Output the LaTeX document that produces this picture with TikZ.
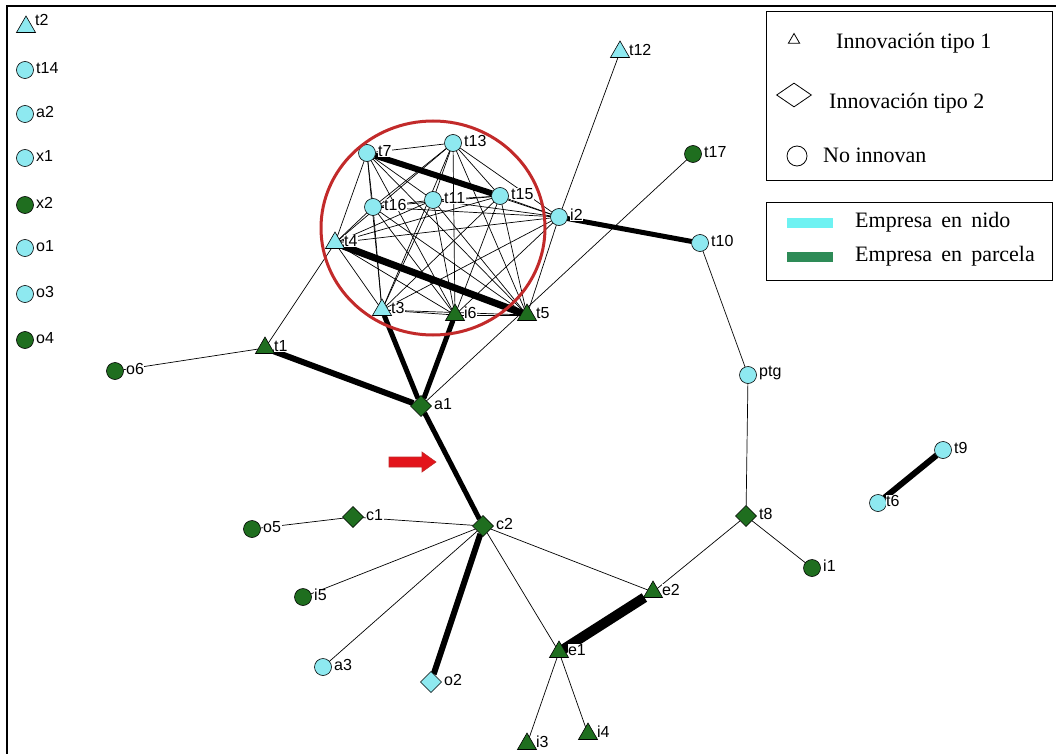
\documentclass[tikz,border=0pt]{standalone}
\usepackage{fontspec}
\setmainfont{Liberation Serif}
\newfontfamily\lblfont{Liberation Sans}
\usetikzlibrary{shapes.geometric,backgrounds}
\definecolor{cy}{HTML}{8EE9F0}
\definecolor{gr}{HTML}{1F6E1F}
\definecolor{barcy}{HTML}{6EF2F2}
\definecolor{bargr}{HTML}{2E8B57}
\definecolor{ringred}{HTML}{C22A2A}
\definecolor{arrred}{HTML}{E3141B}
\begin{document}
\begin{tikzpicture}[x=1pt,y=-1pt,
  lbl/.style={font=\lblfont\fontsize{16}{16}\selectfont, inner sep=0.5pt, fill=white, yshift=2pt},
  every label/.style={label distance=2pt},
  base/.style={draw=black, line width=0.6pt, inner sep=0pt, outer sep=0pt},
  cyc/.style={base, circle, fill=cy, minimum size=17pt},
  grc/.style={base, circle, fill=gr, minimum size=17pt},
  cyt/.style={base, regular polygon, regular polygon sides=3, fill=cy, minimum size=22pt},
  grt/.style={base, regular polygon, regular polygon sides=3, fill=gr, minimum size=22pt},
  cyd/.style={base, diamond, fill=cy, minimum size=21pt},
  grd/.style={base, diamond, fill=gr, minimum size=21pt},
  thinedge/.style={line width=0.7pt},
  heavy/.style={line width=5pt},
  legtext/.style={font=\fontsize{22}{22}\selectfont, anchor=west, inner sep=0pt},
  legbox/.style={draw=black, line width=1pt}
]
\useasboundingbox (0,0) rectangle (1056,754);
% frame lines
\draw[line width=2.5pt] (6,6) -- (1056,6);
\draw[line width=2.5pt] (7,6) -- (7,754);

% isolated nodes
\node[cyt, label={[lbl,yshift=5pt]right:t2}] (t2) at (26,27) {};
\node[cyc, label={[lbl]right:t14}] (t14) at (25,70) {};
\node[cyc, label={[lbl]right:a2}] (a2) at (25,114) {};
\node[cyc, label={[lbl]right:x1}] (x1) at (25,158) {};
\node[grc, label={[lbl]right:x2}] (x2) at (25,205) {};
\node[cyc, label={[lbl]right:o1}] (o1) at (25,248) {};
\node[cyc, label={[lbl]right:o3}] (o3) at (25,294) {};
\node[grc, label={[lbl]right:o4}] (o4) at (25,340) {};

% network nodes
\node[cyt, label={[lbl]right:t12}] (t12) at (620,52) {};
\node[grc, label={[lbl]right:t17}] (t17) at (693,154) {};
\node[cyc, label={[lbl]right:t7}] (t7) at (367,153) {};
\node[cyc, label={[lbl]right:t13}] (t13) at (453,143) {};
\node[cyc, label={[lbl]right:t16}] (t16) at (373,207) {};
\node[cyc, label={[lbl]right:t11}] (t11) at (433,200) {};
\node[cyc, label={[lbl]right:t15}] (t15) at (500,196) {};
\node[cyc, label={[lbl]right:i2}] (i2) at (559,217) {};
\node[cyc, label={[lbl]right:t10}] (t10) at (700,243) {};
\node[cyt, label={[lbl]right:t4}] (t4) at (335,243) {};
\node[cyt, label={[lbl]right:t3}] (t3) at (382,310) {};
\node[grt, label={[lbl]right:i6}] (i6) at (455,315) {};
\node[grt, label={[lbl]right:t5}] (t5) at (527,315) {};
\node[grt, label={[lbl]right:t1}] (t1) at (265,348) {};
\node[grc, label={[lbl]right:o6}] (o6) at (115,371) {};
\node[grd, label={[lbl]right:a1}] (a1) at (421,406) {};
\node[cyc, label={[lbl]right:ptg}] (ptg) at (748,375) {};
\node[grd, label={[lbl]right:c1}] (c1) at (353,517) {};
\node[grc, label={[lbl]right:o5}] (o5) at (252,529) {};
\node[grd, label={[lbl]right:c2}] (c2) at (483,526) {};
\node[grd, label={[lbl]right:t8}] (t8) at (746,516) {};
\node[grc, label={[lbl]right:i1}] (i1) at (812,568) {};
\node[cyc, label={[lbl]right:t9}] (t9) at (943,450) {};
\node[cyc, label={[lbl,xshift=-3pt]right:t6}] (t6) at (878,503) {};
\node[grc, label={[lbl]right:i5}] (i5) at (303,597) {};
\node[grt, label={[lbl]right:e2}] (e2) at (653,592) {};
\node[grt, label={[lbl]right:e1}] (e1) at (559,652) {};
\node[cyc, label={[lbl]right:a3}] (a3) at (323,667) {};
\node[cyd, label={[lbl]right:o2}] (o2) at (431,682) {};
\node[grt, label={[lbl]right:i3}] (i3) at (527,744) {};
\node[grt, label={[lbl]right:i4}] (i4) at (588,734) {};

\begin{scope}[on background layer]
  % dense cluster: all pairs
  \foreach \a [count=\i] in {t7,t13,t16,t11,t15,i2,t4,t3,i6,t5}{
    \foreach \b [count=\j] in {t7,t13,t16,t11,t15,i2,t4,t3,i6,t5}{
      \ifnum\j>\i \draw[thinedge] (\a) -- (\b); \fi
    }
  }
  % thin edges
  \draw[thinedge] (o6) -- (t1);
  \draw[thinedge] (t1) -- (t4);
  \draw[thinedge] (a1) -- (t17);
  \draw[thinedge] (i2) -- (t12);
  \draw[thinedge] (t10) -- (ptg);
  \draw[thinedge] (ptg) -- (t8);
  \draw[thinedge] (t8) -- (e2);
  \draw[thinedge] (t8) -- (i1);
  \draw[thinedge] (c2) -- (c1);
  \draw[thinedge] (c1) -- (o5);
  \draw[thinedge] (c2) -- (i5);
  \draw[thinedge] (c2) -- (a3);
  \draw[thinedge] (c2) -- (e2);
  \draw[thinedge] (c2) -- (e1);
  \draw[thinedge] (e1) -- (i3);
  \draw[thinedge] (e1) -- (i4);
  % heavy edges
  \draw[line width=6pt] (t7) -- (t15);
  \draw[line width=7pt] (t4) -- (t5);
  \draw[heavy] (i2) -- (t10);
  \draw[line width=6pt] (t1) -- (a1);
  \draw[heavy] (t3) -- (a1);
  \draw[heavy] (i6) -- (a1);
  \draw[heavy] (a1) -- (c2);
  \draw[line width=6pt] (c2) -- (o2);
  \draw[line width=10pt] (e1) -- (e2);
  \draw[line width=6pt] (t9) -- (t6);
\end{scope}

% red ring
\draw[ringred, line width=3pt] (433,228) ellipse [x radius=112, y radius=107];

% red block arrow
\filldraw[fill=arrred, draw=ringred, line width=0.6pt]
  (389,457) -- (422,457) -- (422,452) -- (436,462) -- (422,472) -- (422,467) -- (389,467) -- cycle;

% legend 1
\draw[legbox] (766,12) rectangle (1052,180);
\node[draw=black, line width=0.8pt, regular polygon, regular polygon sides=3, minimum size=13pt, inner sep=0pt] (lgtri) at (794,40) {};
\node[legtext] (lgt1) at (836,43) {Innovación tipo 1};
\node[draw=black, line width=0.8pt, diamond, minimum width=35pt, minimum height=24pt, inner sep=0pt] (lgdia) at (794,95) {};
\node[legtext] (lgt2) at (829,103) {Innovación tipo 2};
\node[draw=black, line width=0.8pt, circle, minimum size=20pt, inner sep=0pt] (lgcir) at (797,156) {};
\node[legtext] (lgt3) at (823,155) {No innovan};

% legend 2
\draw[legbox] (766,202) rectangle (1052,280);
\fill[barcy] (787,218) rectangle (833,228);
\fill[bargr] (787,252) rectangle (833,262);
\node[legtext] (lgt4) at (855,222) {Empresa\, en\, nido};
\node[legtext] (lgt5) at (855,256) {Empresa\, en\, parcela};
\end{tikzpicture}
\end{document}
